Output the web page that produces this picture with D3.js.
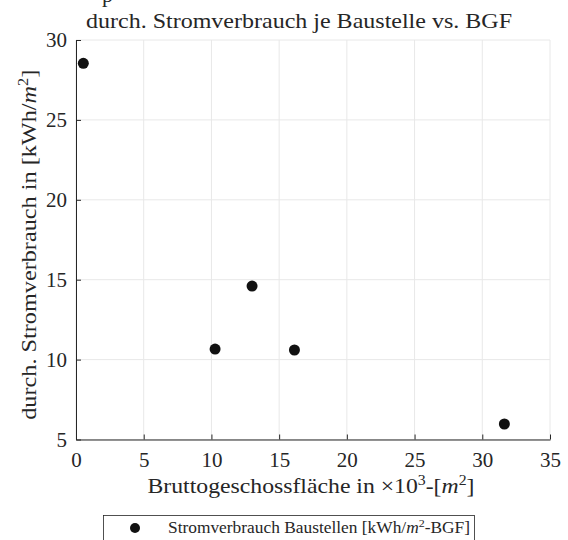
<!DOCTYPE html>
<html>
<head>
<meta charset="utf-8">
<script src="https://cdn.jsdelivr.net/npm/d3@7"></script>
<style>
  body { margin: 0; background: #fff; }
  text { font-family: "Liberation Serif", "DejaVu Serif", serif; fill: #262626; }
</style>
</head>
<body>
<script>
// Bruttogeschossfläche (x 10^3 m2) und durchschn. Stromverbrauch (kWh/m2)
var bgf = [0.54, 10.27, 13.0, 16.13, 31.63];
var strom = [28.54, 10.66, 14.6, 10.6, 5.97];
var xTicks = [0, 5, 10, 15, 20, 25, 30, 35];
var yTicks = [5, 10, 15, 20, 25, 30];

var width = 568, height = 540;
var margin = { top: 40, right: 18, bottom: 100.5, left: 76 };
var w = width - margin.left - margin.right;
var h = height - margin.top - margin.bottom;

var svg = d3.select('body').append('svg')
  .attr('width', width)
  .attr('height', height);

var g = svg.append('g')
  .attr('transform', 'translate(' + margin.left + ',' + margin.top + ')');

var x = d3.scaleLinear().domain([0, 35]).range([0, w]);
var y = d3.scaleLinear().domain([5, 30]).range([h, 0]);

// Gitternetz
g.append('g').selectAll('line')
  .data(xTicks)
  .enter().append('line')
  .attr('x1', function(d) { return x(d); })
  .attr('x2', function(d) { return x(d); })
  .attr('y1', 0).attr('y2', h)
  .style('stroke', '#e8e8e8');

g.append('g').selectAll('line')
  .data(yTicks)
  .enter().append('line')
  .attr('y1', function(d) { return y(d); })
  .attr('y2', function(d) { return y(d); })
  .attr('x1', 0).attr('x2', w)
  .style('stroke', '#e8e8e8');

// Achsen (Ticks nach innen, wie MATLAB)
var xAxis = d3.axisBottom(x).tickValues(xTicks).tickSizeInner(-5).tickSizeOuter(0).tickPadding(13);
var yAxis = d3.axisLeft(y).tickValues(yTicks).tickSizeInner(-5).tickSizeOuter(0).tickPadding(9);

var gx = g.append('g')
  .attr('transform', 'translate(0,' + h + ')')
  .call(xAxis);
var gy = g.append('g').call(yAxis);

[gx, gy].forEach(function(a) {
  a.select('.domain').style('stroke', '#262626');
  a.selectAll('.tick line').style('stroke', '#262626');
  a.selectAll('text')
    .style('font-family', '"Liberation Serif", serif')
    .style('font-size', '21px')
    .style('fill', '#262626');
});

// Punkte
g.selectAll('.dot')
  .data(bgf)
  .enter().append('circle')
  .attr('class', 'dot')
  .attr('cx', function(d) { return x(d); })
  .attr('cy', function(d, i) { return y(strom[i]); })
  .attr('r', 5.5)
  .style('fill', '#111');

// abgeschnittener Obertitel
svg.append('text')
  .attr('x', 102).attr('y', 2)
  .style('font-size', '22px')
  .text('p');

// Titel
svg.append('text')
  .attr('x', 299).attr('y', 28)
  .attr('text-anchor', 'middle')
  .attr('textLength', 426)
  .attr('lengthAdjust', 'spacingAndGlyphs')
  .style('font-size', '21px')
  .text('durch. Stromverbrauch je Baustelle vs. BGF');

// x-Achsenbeschriftung
var xl = svg.append('text')
  .attr('x', 311).attr('y', 493)
  .attr('text-anchor', 'middle')
  .attr('textLength', 327)
  .attr('lengthAdjust', 'spacingAndGlyphs')
  .style('font-size', '21px');
xl.append('tspan').text('Bruttogeschossfläche in ×10');
xl.append('tspan').attr('dy', -8).style('font-size', '14px').text('3');
xl.append('tspan').attr('dy', 8).text('-[');
xl.append('tspan').style('font-style', 'italic').text('m');
xl.append('tspan').attr('dy', -8).style('font-size', '14px').text('2');
xl.append('tspan').attr('dy', 8).text(']');

// y-Achsenbeschriftung
var yl = svg.append('text')
  .attr('transform', 'translate(36,' + (margin.top + h / 2 + 5) + ') rotate(-90)')
  .attr('text-anchor', 'middle')
  .attr('textLength', 350)
  .attr('lengthAdjust', 'spacingAndGlyphs')
  .style('font-size', '21px');
yl.append('tspan').text('durch. Stromverbrauch in [kWh/');
yl.append('tspan').style('font-style', 'italic').text('m');
yl.append('tspan').attr('dy', -8).style('font-size', '14px').text('2');
yl.append('tspan').attr('dy', 8).text(']');

// Legende
var leg = svg.append('g');
leg.append('rect')
  .attr('x', 103.5).attr('y', 515.5)
  .attr('width', 371).attr('height', 40)
  .style('fill', '#fff')
  .style('stroke', '#262626')
  .style('stroke-width', 0.8);
leg.append('circle')
  .attr('cx', 135).attr('cy', 528)
  .attr('r', 5)
  .style('fill', '#111');
var lt = leg.append('text')
  .attr('x', 168).attr('y', 533)
  .attr('textLength', 302)
  .attr('lengthAdjust', 'spacingAndGlyphs')
  .style('font-size', '16px');
lt.append('tspan').text('Stromverbrauch Baustellen [kWh/');
lt.append('tspan').style('font-style', 'italic').text('m');
lt.append('tspan').attr('dy', -6).style('font-size', '11px').text('2');
lt.append('tspan').attr('dy', 6).text('-BGF]');
</script>
</body>
</html>
